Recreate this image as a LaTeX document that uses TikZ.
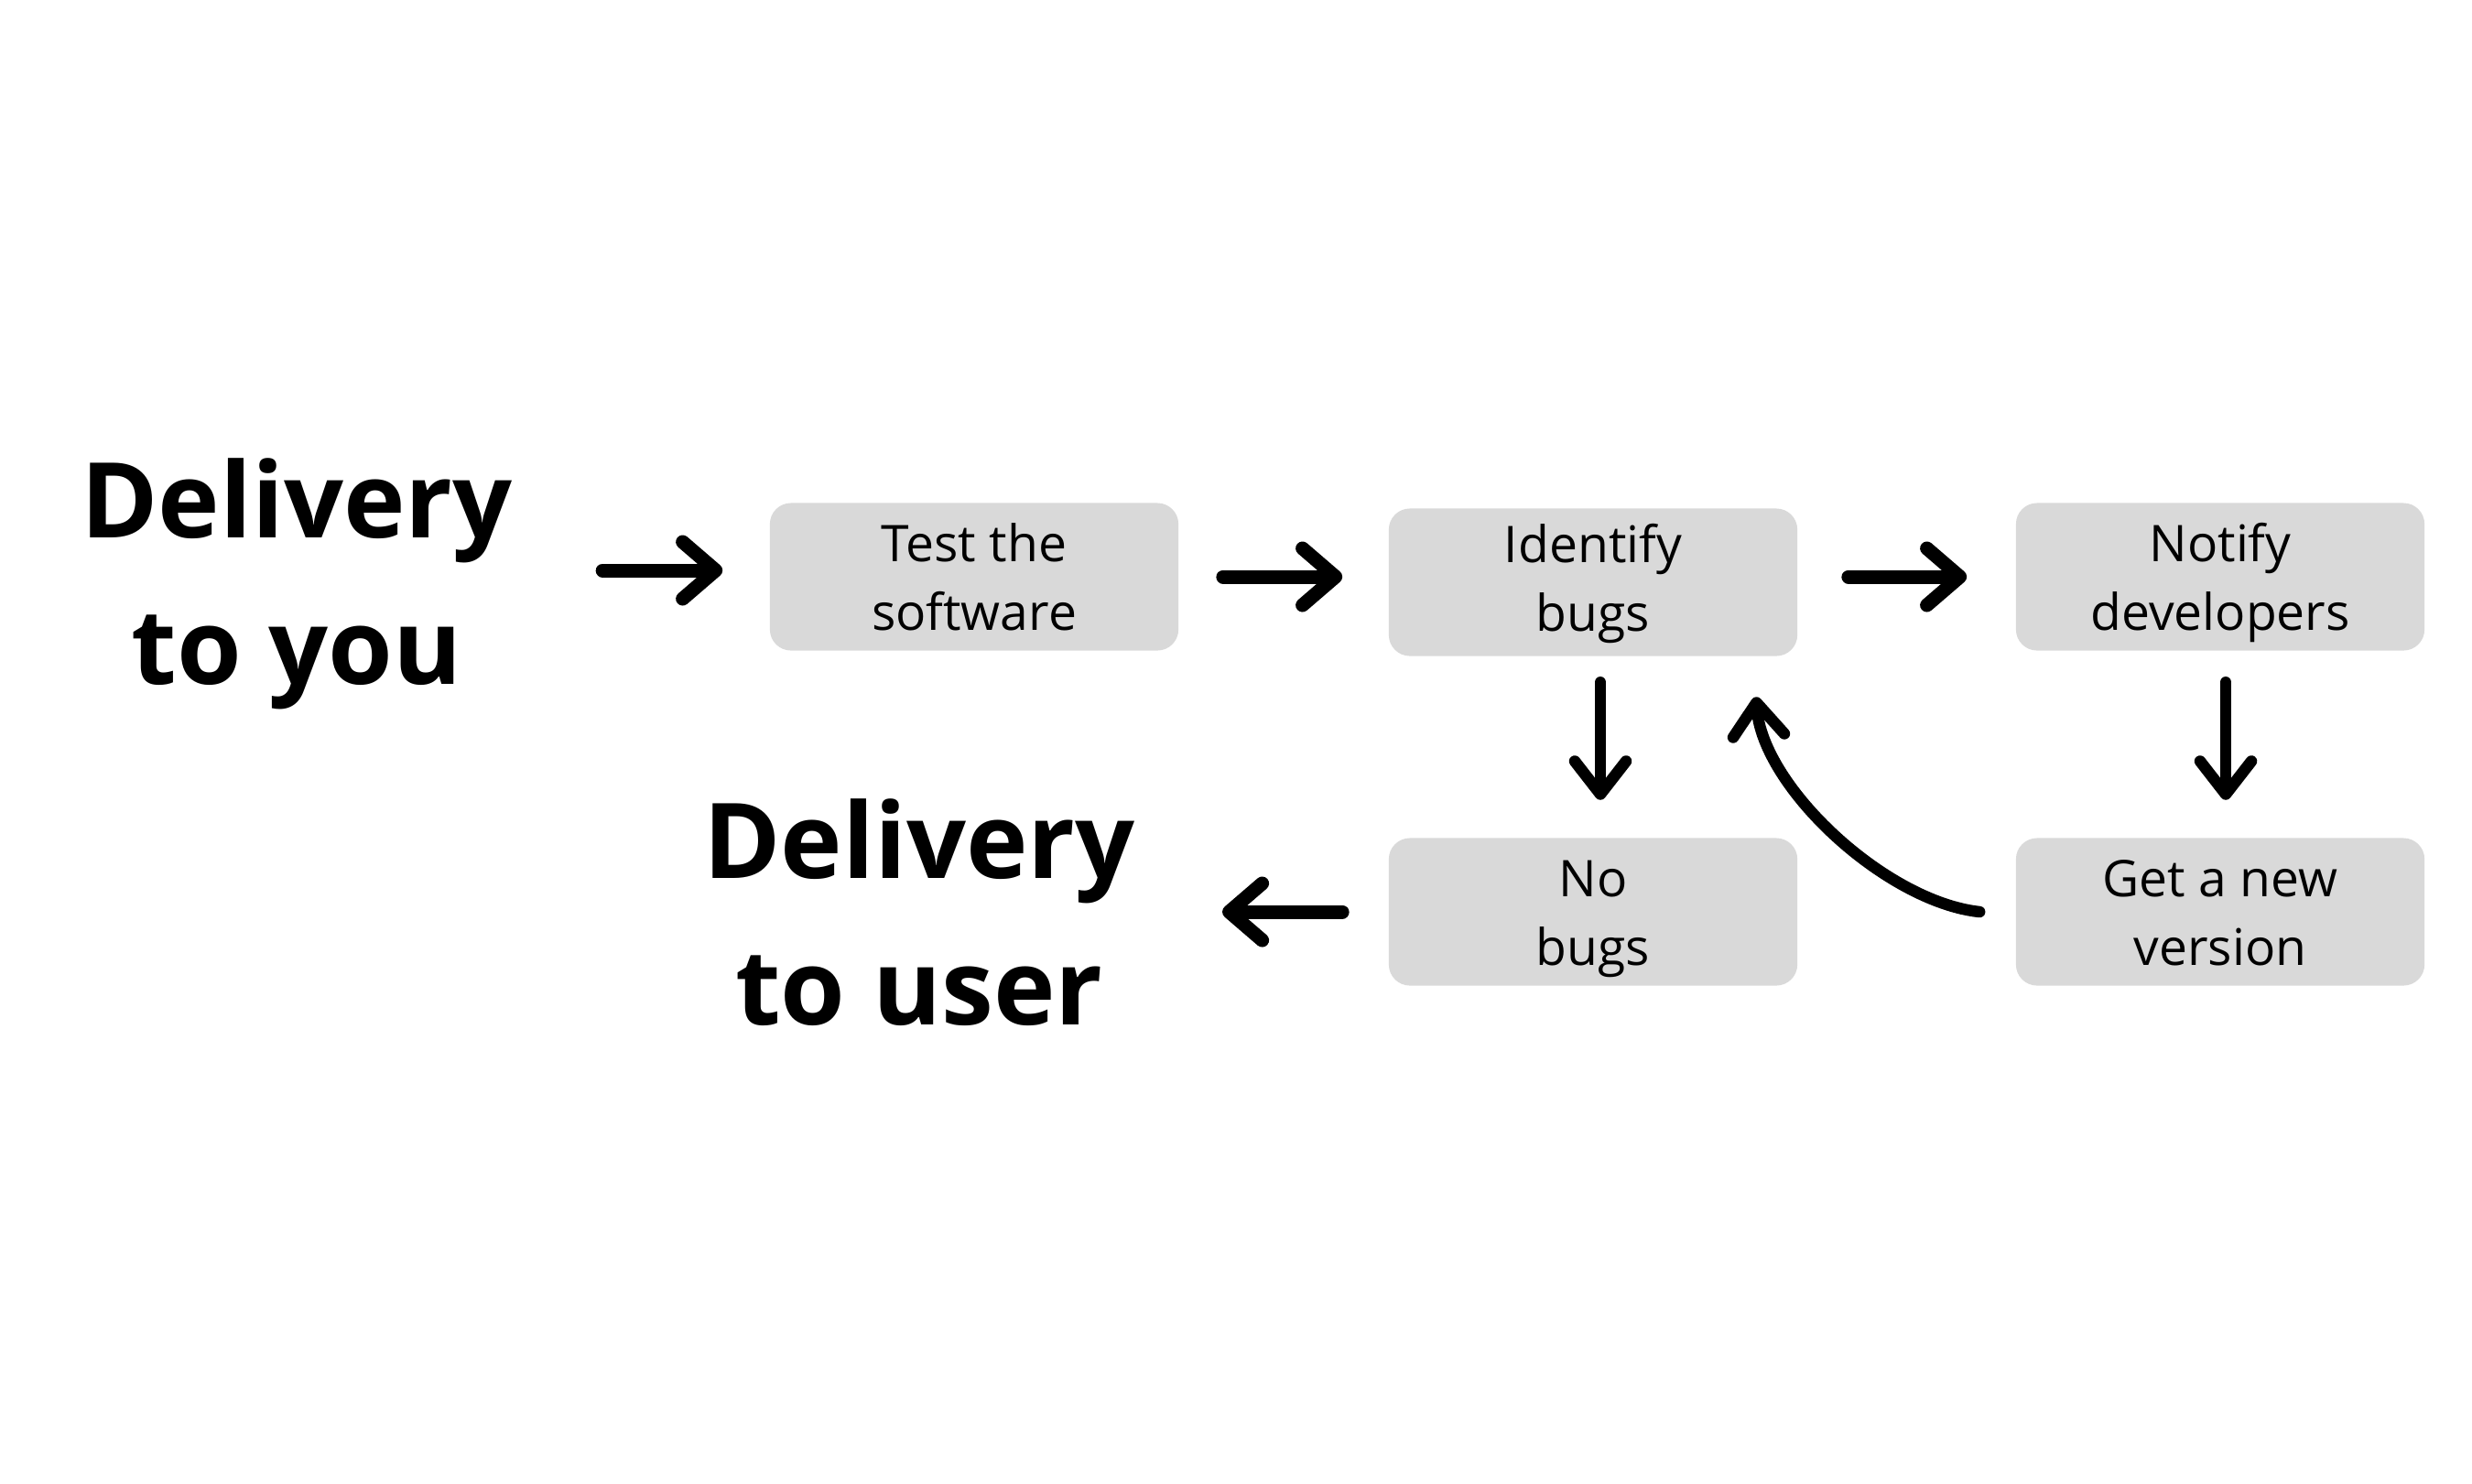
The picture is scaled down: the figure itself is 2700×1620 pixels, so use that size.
\documentclass[tikz,border=0pt]{standalone}
\usepackage{fontspec}
\setmainfont{Open Sans}
\usetikzlibrary{arrows.meta}
\definecolor{boxgray}{HTML}{D9D9D9}
\newcommand{\lnstrut}{\rule[-4.8pt]{0pt}{21.3pt}}
\newcommand{\lnstrutup}{\rule[-6.2pt]{0pt}{21.3pt}}
\tikzset{
  stepbox/.style={fill=boxgray, draw=none, rounded corners=0.23cm, minimum width=4.46cm, minimum height=1.61cm, align=center, inner sep=0pt, font=\fontsize{15.7}{21.3}\selectfont},
  bigtext/.style={align=center, inner sep=0pt, font=\bfseries\fontsize{32.5}{45.5}\selectfont},
  harrow/.style={line width=0.15cm, line cap=round, -{Straight Barb[length=0.36cm,width=0.62cm,round]}},
  varrow/.style={line width=0.125cm, line cap=round, -{Straight Barb[length=0.36cm,width=0.56cm,round]}},
}
\begin{document}
\begin{tikzpicture}[x=0.01cm, y=-0.01cm]
\useasboundingbox[fill=white] (0,0) rectangle (2700,1620);
\node[bigtext] (you) at (324,638) {Delivery\\to you};
\node[bigtext] (user) at (1004,997) {Delivery\\to user};
\node[stepbox] (test) at (1064,630) {\lnstrut Test the\\\lnstrut software};
\node[stepbox] (identify) at (1740,636) {\lnstrutup Identify\\\lnstrutup bugs};
\node[stepbox] (notify) at (2425,630) {\lnstrut Notify\\\lnstrut developers};
\node[stepbox] (nobugs) at (1740,996) {\lnstrut No\\\lnstrut bugs};
\node[stepbox] (new) at (2425,996) {\lnstrut Get a new\\\lnstrut version};
\draw[harrow] ([shift={(-182,-7)}]test.west) -- ([shift={(-51,-7)}]test.west);
\draw[harrow] ([xshift=0.48cm]test.east) -- ([xshift=-0.5cm]test.east -| identify.west);
\draw[harrow] ([xshift=0.55cm]identify.east |- notify.west) -- ([xshift=-0.53cm]notify.west);
\draw[varrow] ([shift={(8,28)}]identify.south) -- ([shift={(8,-41)}]nobugs.north);
\draw[varrow] ([shift={(6,34)}]notify.south) -- ([shift={(6,-41)}]new.north);
\draw[harrow] ([xshift=-0.5cm]nobugs.west) -- ([xshift=-1.81cm]nobugs.west);
\draw[varrow] ([xshift=-0.39cm]new.west) .. controls (2060,985) and (1925,860) .. ([shift={(178,44)}]identify.south);
\end{tikzpicture}
\end{document}
